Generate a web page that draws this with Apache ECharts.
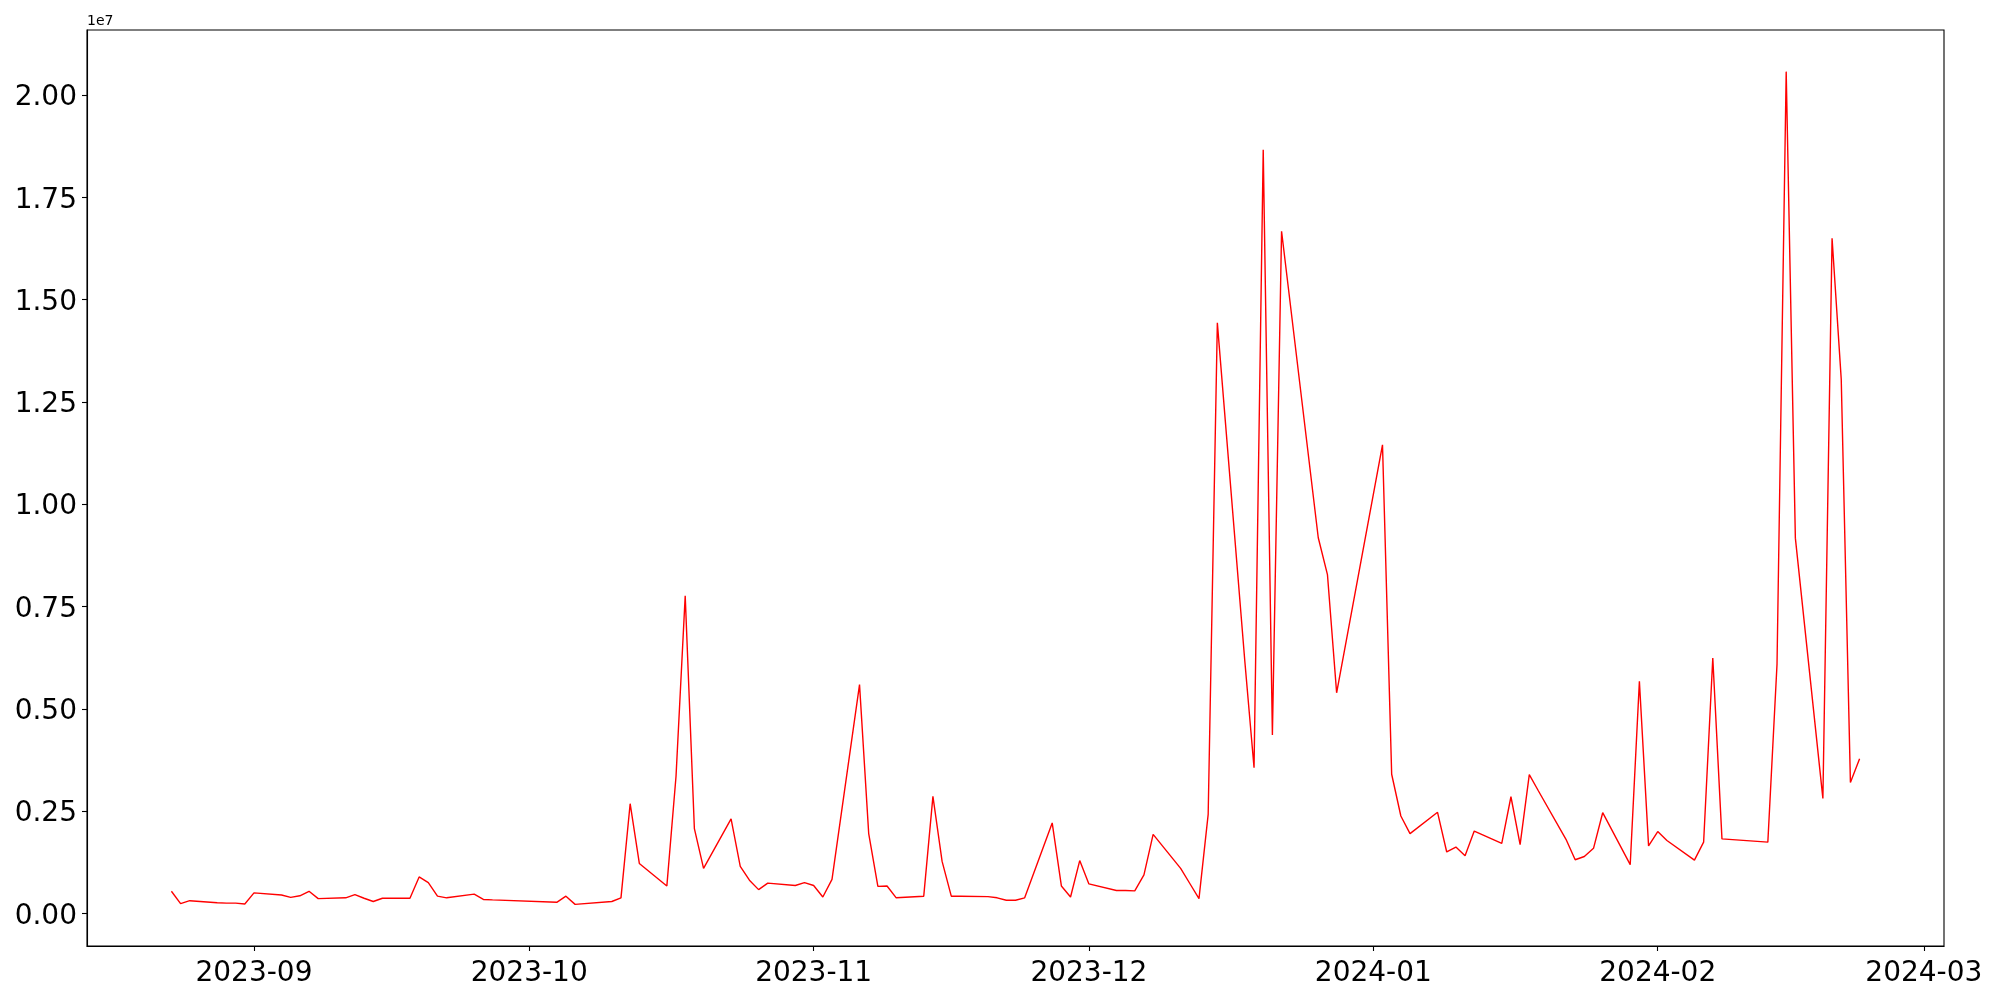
<!DOCTYPE html>
<html>
<head>
<meta charset="utf-8">
<script src="https://cdn.jsdelivr.net/npm/echarts@6/dist/echarts.min.js"></script>
<style>
html,body{margin:0;padding:0;background:#fff;}
#chart{width:2000px;height:1000px;}
</style>
</head>
<body>
<div id="chart"></div>
<script>
// Korean trading days, Aug 2023 - Feb 2024
const dates = [
  '2023-08-23','2023-08-24','2023-08-25','2023-08-28','2023-08-29','2023-08-30','2023-08-31',
  '2023-09-01','2023-09-04','2023-09-05','2023-09-06','2023-09-07','2023-09-08',
  '2023-09-11','2023-09-12','2023-09-13','2023-09-14','2023-09-15',
  '2023-09-18','2023-09-19','2023-09-20','2023-09-21','2023-09-22',
  '2023-09-25','2023-09-26','2023-09-27',
  '2023-10-04','2023-10-05','2023-10-06','2023-10-10','2023-10-11','2023-10-12','2023-10-13',
  '2023-10-16','2023-10-17','2023-10-18','2023-10-19','2023-10-20',
  '2023-10-23','2023-10-24','2023-10-25','2023-10-26','2023-10-27','2023-10-30','2023-10-31',
  '2023-11-01','2023-11-02','2023-11-03','2023-11-06','2023-11-07','2023-11-08','2023-11-09','2023-11-10',
  '2023-11-13','2023-11-14','2023-11-15','2023-11-16','2023-11-17',
  '2023-11-20','2023-11-21','2023-11-22','2023-11-23','2023-11-24',
  '2023-11-27','2023-11-28','2023-11-29','2023-11-30','2023-12-01',
  '2023-12-04','2023-12-05','2023-12-06','2023-12-07','2023-12-08',
  '2023-12-11','2023-12-12','2023-12-13','2023-12-14','2023-12-15',
  '2023-12-18','2023-12-19','2023-12-20','2023-12-21','2023-12-22',
  '2023-12-26','2023-12-27','2023-12-28',
  '2024-01-02','2024-01-03','2024-01-04','2024-01-05',
  '2024-01-08','2024-01-09','2024-01-10','2024-01-11','2024-01-12',
  '2024-01-15','2024-01-16','2024-01-17','2024-01-18','2024-01-19',
  '2024-01-22','2024-01-23','2024-01-24','2024-01-25','2024-01-26',
  '2024-01-29','2024-01-30','2024-01-31','2024-02-01','2024-02-02',
  '2024-02-05','2024-02-06','2024-02-07','2024-02-08',
  '2024-02-13','2024-02-14','2024-02-15','2024-02-16',
  '2024-02-19','2024-02-20','2024-02-21','2024-02-22','2024-02-23'
];
const values = [
  540000,240000,310000,260000,250000,250000,230000,
  500000,450000,390000,430000,540000,360000,
  380000,460000,370000,290000,370000,
  370000,890000,750000,420000,380000,
  470000,340000,330000,
  270000,420000,220000,290000,380000,2680000,1220000,
  670000,3350000,7760000,2070000,1100000,
  2310000,1150000,810000,580000,740000,680000,750000,
  680000,400000,830000,5590000,1950000,660000,670000,380000,
  420000,2860000,1270000,420000,420000,
  410000,380000,320000,320000,380000,
  2210000,670000,400000,1290000,720000,
  560000,560000,550000,940000,1930000,
  1100000,730000,360000,2420000,14430000,
  6150000,3560000,18660000,4360000,16670000,
  9180000,8280000,5390000,
  11450000,3400000,2380000,1950000,
  2470000,1500000,1620000,1410000,2010000,
  1710000,2850000,1680000,3390000,2990000,
  1810000,1310000,1390000,1590000,2460000,
  1190000,5670000,1650000,2000000,1780000,
  1300000,1740000,6240000,1820000,
  1740000,6090000,20570000,9170000,
  2810000,16500000,13050000,3200000,3780000
];
const yTicks = [0, 2500000, 5000000, 7500000, 10000000, 12500000, 15000000, 17500000, 20000000];
const xTickLabels = ['2023-09','2023-10','2023-11','2023-12','2024-01','2024-02','2024-03'];

function parseDay(s){ const p = s.split('-').map(Number); return new Date(p[0], p[1]-1, p[2] || 1).getTime(); }
const seriesData = dates.map((d,i)=>[parseDay(d), values[i]]);
const xTicks = xTickLabels.map(parseDay);

const tMin = parseDay(dates[0]), tMax = parseDay(dates[dates.length-1]);
const tPad = (tMax - tMin) * 0.05;
const vMin = Math.min(...values), vMax = Math.max(...values);
const vPad = (vMax - vMin) * 0.05;

const FONT = 'DejaVu Sans';
const chart = echarts.init(document.getElementById('chart'), null, {renderer:'canvas'});
chart.setOption({
  animation: false,
  backgroundColor: '#ffffff',
  grid: { left: 87, right: 56, top: 30, bottom: 54, show: true, borderColor: '#000', borderWidth: 1.1, backgroundColor: 'transparent' },
  graphic: [{ type: 'text', left: 87, top: 14, style: { text: '1e7', font: '14px "DejaVu Sans"', fill: '#000' } }],
  xAxis: {
    type: 'value',
    min: tMin - tPad,
    max: tMax + tPad,
    axisLine: { show: true, onZero: false, lineStyle: { color: '#000', width: 1.1 } },
    axisTick: { show: true, inside: false, length: 5, lineStyle: { color: '#000', width: 1.1 }, customValues: xTicks },
    axisLabel: {
      show: true, margin: 14, color: '#000', fontFamily: FONT, fontSize: 28,
      customValues: xTicks,
      formatter: function(v){ const d = new Date(v); return d.getFullYear() + '-' + String(d.getMonth()+1).padStart(2,'0'); }
    },
    splitLine: { show: false }
  },
  yAxis: {
    type: 'value',
    min: vMin - vPad,
    max: vMax + vPad,
    axisLine: { show: true, onZero: false, lineStyle: { color: '#000', width: 1.1 } },
    axisTick: { show: true, inside: false, length: 5, lineStyle: { color: '#000', width: 1.1 }, customValues: yTicks },
    axisLabel: {
      show: true, margin: 10, color: '#000', fontFamily: FONT, fontSize: 28,
      customValues: yTicks,
      formatter: function(v){ return '{t|' + (v/1e7).toFixed(2) + '}'; },
      rich: { t: { fontFamily: FONT, fontSize: 28, color: '#000', padding: [6, 0, 0, 0] } }
    },
    splitLine: { show: false }
  },
  series: [{
    type: 'line',
    data: seriesData,
    showSymbol: false,
    symbol: 'none',
    lineStyle: { color: '#ff0000', width: 1.4 },
    itemStyle: { color: '#ff0000' }
  }]
});
</script>
</body>
</html>
